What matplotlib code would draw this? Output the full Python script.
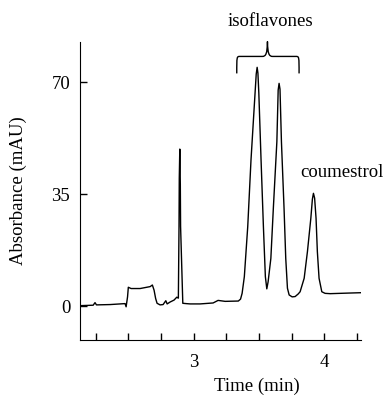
import numpy as np
import matplotlib
matplotlib.use('Agg')
import matplotlib.pyplot as plt
from matplotlib.path import Path
from matplotlib.patches import PathPatch

# chromatogram trace (time in min, absorbance in mAU)
TIME = [2.122, 2.230, 2.244, 2.255, 2.359, 2.474, 2.482, 2.493, 2.499, 2.520,
        2.589, 2.666, 2.683, 2.696, 2.708, 2.719, 2.742, 2.765, 2.786, 2.796,
        2.819, 2.849, 2.870, 2.882, 2.887, 2.889, 2.893, 2.897, 2.899, 2.916,
        2.941, 2.972, 3.048, 3.148, 3.186, 3.240, 3.341, 3.358, 3.370, 3.387,
        3.413, 3.438, 3.469, 3.478, 3.485, 3.491, 3.498, 3.515, 3.533, 3.548,
        3.559, 3.569, 3.590, 3.609, 3.636, 3.646, 3.653, 3.660, 3.671, 3.691,
        3.704, 3.717, 3.730, 3.753, 3.776, 3.799, 3.814, 3.845, 3.870, 3.896,
        3.908, 3.916, 3.925, 3.936, 3.946, 3.959, 3.980, 4.005, 4.044, 4.120,
        4.197, 4.281]
ABSORB = [0.25, 0.4, 1.2, 0.5, 0.6, 0.9, -0.1, 3.0, 6.0, 5.6,
          5.6, 6.2, 6.7, 5.1, 2.5, 1.0, 0.5, 0.6, 1.8, 0.8,
          1.4, 2.0, 2.9, 2.6, 25.0, 40.0, 49.1, 38.0, 25.0, 1.0,
          0.9, 0.8, 0.8, 1.1, 1.9, 1.6, 1.7, 2.3, 4.1, 9.3,
          24.9, 45.7, 66.5, 72.5, 74.6, 72.8, 66.5, 45.7, 24.9, 9.3,
          5.5, 7.7, 15.0, 30.6, 51.4, 67.5, 69.6, 67.8, 51.4, 30.6,
          15.0, 5.7, 3.6, 3.0, 3.1, 3.9, 4.6, 8.8, 17.1, 27.5,
          33.5, 35.3, 33.8, 27.5, 17.1, 8.8, 4.6, 4.1, 4.0, 4.1,
          4.2, 4.3]

Y_TICKS = [0, 35, 70]
X_TICKS = [2.25, 2.5, 2.75, 3.0, 3.25, 3.5, 3.75, 4.0, 4.25]
X_LABELS = ['', '', '', '3', '', '', '', '4', '']

BRACE_T0, BRACE_T1, BRACE_MID = 3.329, 3.806, 3.564
BRACE_LOW, BRACE_BAR, BRACE_TIP = 72.7, 78.0, 82.6

plt.rcParams.update({'font.family': ['Liberation Serif', 'DejaVu Serif'],
                     'font.size': 13.5})

fig = plt.figure(figsize=(3.87, 3.97), dpi=100)
ax = fig.add_axes([0.2067, 0.1436, 0.7261, 0.7506])

ax.plot(TIME, ABSORB, color='black', lw=1.0)

ax.set_xlim(2.129, 4.280)
ax.set_ylim(-10.45, 82.5)
ax.spines['top'].set_visible(False)
ax.spines['right'].set_visible(False)
ax.set_yticks(Y_TICKS)
ax.set_xticks(X_TICKS)
ax.set_xticklabels(X_LABELS)
ax.tick_params(direction='in', length=5, width=1)
ax.tick_params(axis='x', pad=10)
ax.tick_params(axis='y', pad=7)
ax.set_xlabel('Time (min)')
ax.xaxis.set_label_coords(0.63, -0.125)
ax.set_ylabel('Absorbance (mAU)')
ax.yaxis.set_label_coords(-0.19, 0.5)

# curly brace over the isoflavone peaks
w = BRACE_T1 - BRACE_T0
verts = [(BRACE_T0, BRACE_LOW),
         (BRACE_T0, BRACE_BAR), (BRACE_T0, BRACE_BAR), (BRACE_T0 + 0.05 * w, BRACE_BAR),
         (BRACE_MID - 0.04, BRACE_BAR),
         (BRACE_MID - 0.012, BRACE_BAR), (BRACE_MID - 0.002, BRACE_BAR + 0.8), (BRACE_MID, BRACE_TIP),
         (BRACE_MID + 0.002, BRACE_BAR + 0.8), (BRACE_MID + 0.012, BRACE_BAR), (BRACE_MID + 0.04, BRACE_BAR),
         (BRACE_T1 - 0.05 * w, BRACE_BAR),
         (BRACE_T1, BRACE_BAR), (BRACE_T1, BRACE_BAR), (BRACE_T1, BRACE_LOW)]
codes = [Path.MOVETO,
         Path.CURVE4, Path.CURVE4, Path.CURVE4,
         Path.LINETO,
         Path.CURVE4, Path.CURVE4, Path.CURVE4,
         Path.CURVE4, Path.CURVE4, Path.CURVE4,
         Path.LINETO,
         Path.CURVE4, Path.CURVE4, Path.CURVE4]
ax.add_patch(PathPatch(Path(verts, codes), fill=False, lw=1.0, color='black',
                       joinstyle='round', capstyle='butt', clip_on=False))

ax.text(3.584, 88.8, 'isoflavones', ha='center', va='center', clip_on=False)
ax.text(4.133, 41.7, 'coumestrol', ha='center', va='center', clip_on=False)

fig.savefig('out.png', dpi=100)
